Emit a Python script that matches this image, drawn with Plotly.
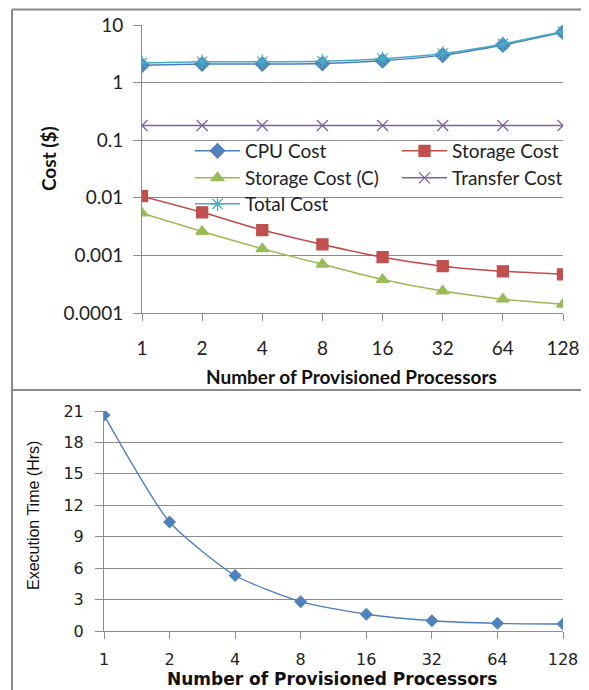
import plotly.graph_objects as go

# ---- data ----
processors = ["1", "2", "4", "8", "16", "32", "64", "128"]
cpu_cost = [2.0, 2.1, 2.1, 2.15, 2.4, 3.0, 4.5, 7.5]
storage_cost = [0.0107, 0.0056, 0.00275, 0.00155, 0.00093, 0.00065, 0.00053, 0.00047]
storage_cost_c = [0.0054, 0.0026, 0.0013, 0.0007, 0.00038, 0.00024, 0.000174, 0.000142]
transfer_cost = [0.18, 0.18, 0.18, 0.18, 0.18, 0.18, 0.18, 0.18]
total_cost = [2.2, 2.3, 2.3, 2.35, 2.6, 3.2, 4.7, 7.7]
exec_time = [20.6, 10.4, 5.3, 2.8, 1.6, 0.98, 0.73, 0.67]

cost_ticks = [0.0001, 0.001, 0.01, 0.1, 1, 10]
cost_tick_text = ["0.0001", "0.001", "0.01", "0.1", "1", "10"]
time_ticks = [0, 3, 6, 9, 12, 15, 18, 21]

# page body has an 8px margin, so the figure is 8px smaller than the window
OFF = 8
W, H = 589 - OFF, 690 - OFF
TOPF = "Lato, Open Sans, sans-serif"
BOTF = "DejaVu Sans, Verdana, sans-serif"
NARF = "Liberation Sans, Arial, sans-serif"
GRID = "#8c8c8c"


def px(x):
    return (x - OFF) / W


def py(y):
    return 1 - (y - OFF) / H


fig = go.Figure()

series = [
    ("CPU Cost", cpu_cost, "#4A7EBB", "#4F81BD", "diamond", 11, "legend"),
    ("Storage Cost", storage_cost, "#BE4B48", "#C0504D", "square", 11, "legend"),
    ("Storage Cost (C)", storage_cost_c, "#98B954", "#9BBB59", "triangle-up", 11, "legend2"),
    ("Transfer Cost", transfer_cost, "#7D60A0", "#8064A2", "x-thin-open", 11, "legend2"),
    ("Total Cost", total_cost, "#46AAC5", "#4BACC6", "asterisk-open", 12, "legend3"),
]
for name, vals, lc, mc, sym, sz, leg in series:
    fig.add_trace(go.Scatter(
        x=processors, y=vals, name=name, mode="lines+markers",
        line=dict(color=lc, width=1.5, shape="spline", smoothing=0.6),
        marker=dict(symbol=sym, size=sz, color=mc, line=dict(color=mc, width=1.3)),
        xaxis="x", yaxis="y", legend=leg,
    ))

fig.add_trace(go.Scatter(
    x=processors, y=exec_time, name="Execution Time", mode="lines+markers",
    line=dict(color="#4A7EBB", width=1.3, shape="spline", smoothing=0.6),
    marker=dict(symbol="diamond", size=10, color="#4F81BD"),
    xaxis="x2", yaxis="y2", showlegend=False,
))

leg_common = dict(
    orientation="h", xanchor="left", yanchor="middle",
    entrywidth=147, entrywidthmode="pixels", itemwidth=45,
    bgcolor="rgba(255,255,255,0)", borderwidth=0,
    font=dict(family=TOPF, size=19, color="#222"),
    traceorder="normal",
)

fig.update_layout(
    width=W, height=H,
    margin=dict(l=0, r=0, t=0, b=0, autoexpand=False),
    paper_bgcolor="white", plot_bgcolor="white",
    xaxis=dict(
        domain=[px(142), px(563)], anchor="y", type="category",
        range=[0, 7], showgrid=False, showline=True, linecolor=GRID, linewidth=1,
        ticks="outside", ticklen=7, tickcolor=GRID, ticklabelstandoff=11,
        tickfont=dict(family=TOPF, size=19, color="#222"), automargin=False,
    ),
    yaxis=dict(
        domain=[py(313), py(25)], anchor="x", type="log", range=[-4, 1],
        tickvals=cost_ticks, ticktext=cost_tick_text,
        showgrid=True, gridcolor=GRID, gridwidth=1,
        showline=True, linecolor=GRID, linewidth=1,
        ticks="outside", ticklen=8, tickcolor=GRID, ticklabelstandoff=6,
        tickfont=dict(family=TOPF, size=19, color="#222"), automargin=False,
    ),
    xaxis2=dict(
        domain=[px(104), px(563)], anchor="y2", type="category",
        range=[0, 7], showgrid=False, showline=True, linecolor=GRID, linewidth=1,
        ticks="outside", ticklen=7, tickcolor=GRID, ticklabelstandoff=7,
        tickfont=dict(family=BOTF, size=16, color="#222"), automargin=False,
    ),
    yaxis2=dict(
        domain=[py(631), py(411)], anchor="x2", range=[0, 21],
        tickvals=time_ticks, showgrid=True, gridcolor=GRID, gridwidth=1,
        showline=True, linecolor=GRID, linewidth=1,
        ticks="outside", ticklen=8, tickcolor=GRID, ticklabelstandoff=8,
        tickfont=dict(family=BOTF, size=16, color="#222"), automargin=False,
    ),
    legend=dict(x=px(190), y=py(151), **leg_common),
    legend2=dict(x=px(190), y=py(178), **leg_common),
    legend3=dict(x=px(190), y=py(204), **leg_common),
    annotations=[
        dict(text="<b>Cost ($)</b>", x=px(48), y=py(158), xref="paper", yref="paper",
             xanchor="center", yanchor="middle",
             textangle=-90, showarrow=False, font=dict(family=TOPF, size=19, color="#111")),
        dict(text="<b>Number of Provisioned Processors</b>", x=px(351), y=py(376),
             xref="paper", yref="paper", xanchor="center", yanchor="middle", showarrow=False,
             font=dict(family=TOPF, size=19, color="#111")),
        dict(text="Execution Time (Hrs)", x=px(33), y=py(516), xref="paper", yref="paper",
             xanchor="center", yanchor="middle",
             textangle=-90, showarrow=False, font=dict(family=NARF, size=16, color="#111")),
        dict(text="<b>Number of Provisioned Processors</b>", x=px(332), y=py(679),
             xref="paper", yref="paper", xanchor="center", yanchor="middle", showarrow=False,
             font=dict(family=BOTF, size=17, color="#111")),
    ],
    shapes=[
        dict(type="line", xref="paper", yref="paper", x0=px(12), x1=1, y0=py(9.5), y1=py(9.5),
             line=dict(color="#8a8a8a", width=2)),
        dict(type="line", xref="paper", yref="paper", x0=px(12), x1=px(12), y0=0, y1=py(9.5),
             line=dict(color="#8a8a8a", width=2)),
        dict(type="line", xref="paper", yref="paper", x0=px(12), x1=1, y0=py(390), y1=py(390),
             line=dict(color="#8a8a8a", width=2)),
    ],
)

fig.write_html("out.html")
